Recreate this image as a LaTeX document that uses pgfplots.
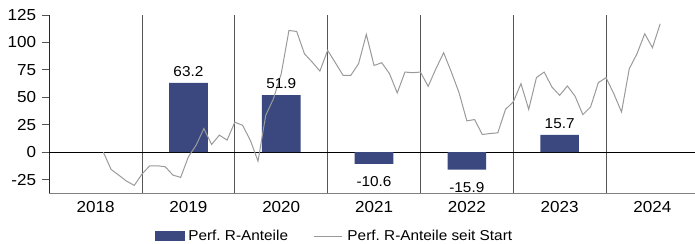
\documentclass[border=0pt]{standalone}
\usepackage{pgfplots}
\pgfplotsset{compat=1.18}
\usepackage{fontspec}
\setmainfont{Liberation Sans}
\newfontfamily\chartfont[FakeStretch=1.07]{Liberation Sans}
\definecolor{barblue}{HTML}{3B4880}
\definecolor{linegray}{HTML}{9A9A9A}
\definecolor{sepgray}{HTML}{555555}
\pgfplotstableread{
m v
7 0
8 -15.7
9 -21
10 -26.4
11 -30.3
12 -20
13 -12.4
14 -12.4
15 -13.3
16 -20.9
17 -23
18 -4.2
19 6.4
20 21.5
21 7
22 15.5
23 11
24 27.3
25 24.5
26 10.9
27 -8.2
28 33.6
29 48.8
30 71.5
31 110.9
32 110
33 89.7
34 82.1
35 73.9
36 92.7
37 81.5
38 70
39 70
40 80.6
41 107.3
42 79
43 81.5
44 71.5
45 54
46 73
47 72.4
48 73
49 60
50 76
51 90.6
52 73
53 54
54 28.5
55 29.7
56 16.1
57 17
58 17.6
59 39
60 45.8
61 62.4
62 39
63 68
64 73
65 59.4
66 51.8
67 60.3
68 50.9
69 34.2
70 41.2
71 63.3
72 67.9
73 53.3
74 36.6
75 76
76 89.7
77 107.9
78 95.2
79 117
}\linedata
\begin{document}
\frenchspacing
\begin{tikzpicture}
\useasboundingbox (-49.2bp,-50.7bp) rectangle (645.8bp,193.3bp);
\begin{axis}[
  scale only axis,
  width=645.8bp, height=178.3bp,
  xmin=0, xmax=83.5, ymin=-37.5, ymax=125,
  axis x line=bottom, axis y line=left,
  x axis line style={-, draw=gray, line width=0.9bp},
  y axis line style={-, draw=black!85, line width=0.9bp},
  xtick={6,18,30,42,54,66,78},
  xticklabels={2018,2019,2020,2021,2022,2023,2024},
  ytick={-25,0,25,50,75,100,125},
  major x tick style={draw=none},
  major y tick style={draw=sepgray, line width=0.8bp},
  tick align=outside,
  major tick length=7.5bp,
  /pgf/number format/assume math mode=true,
  tick label style={font=\chartfont\fontsize{16pt}{19pt}\selectfont, inner sep=0pt},
  xticklabel style={anchor=north, yshift=0bp},
  yticklabel style={anchor=east, xshift=-5.5bp},
  extra x ticks={12,24,36,48,60,72},
  extra x tick labels={},
  extra x tick style={grid=major, major grid style={draw=sepgray, line width=0.9bp}, major x tick style={draw=none}},
  extra y ticks={0},
  extra y tick labels={},
  extra y tick style={grid=major, major grid style={draw=black, line width=0.9bp}},
  legend columns=2,
  legend style={
    at={(0.1638,-0.2395)}, anchor=west,
    draw=none, fill=none, inner sep=0pt, outer sep=0pt,
    font=\chartfont\fontsize{14.4pt}{17pt}\selectfont,
    nodes={inner sep=0pt},
    /tikz/every even column/.append style={column sep=25bp},
  },
  legend cell align=left,
]
\addplot[ybar, bar width=5, bar shift=0pt, fill=barblue, draw=none,
  nodes near coords={\pgfmathprintnumber[fixed,fixed zerofill,precision=1,assume math mode=true]{\pgfplotspointmeta}},
  every node near coord/.append style={anchor=center, yshift=11.5bp, text=black, font=\chartfont\fontsize{14.4pt}{17pt}\selectfont, inner sep=0pt},
  legend image code/.code={\fill[barblue] (0bp,-5.35bp) rectangle (30bp,5.35bp); \path (33.3bp,0bp);}
] coordinates {(18,63.2) (30,51.9) (66,15.7)};
\addlegendentry{Perf. R-Anteile}
\addplot[ybar, bar width=5, bar shift=0pt, fill=barblue, draw=none, forget plot,
  nodes near coords={\pgfmathprintnumber[fixed,fixed zerofill,precision=1,assume math mode=true]{\pgfplotspointmeta}},
  every node near coord/.append style={anchor=center, yshift=-17.5bp, text=black, font=\chartfont\fontsize{14.4pt}{17pt}\selectfont, inner sep=0pt}
] coordinates {(42,-10.6) (54,-15.9)};
\addplot[sharp plot, mark=none, color=linegray, line width=1bp,
  legend image code/.code={\draw[linegray, line width=1bp] (0bp,0bp) -- (28.4bp,0bp); \path (33.4bp,0bp);}
] table[x=m, y=v] {\linedata};
\addlegendentry{Perf. R-Anteile seit Start}
\end{axis}
\end{tikzpicture}
\end{document}
